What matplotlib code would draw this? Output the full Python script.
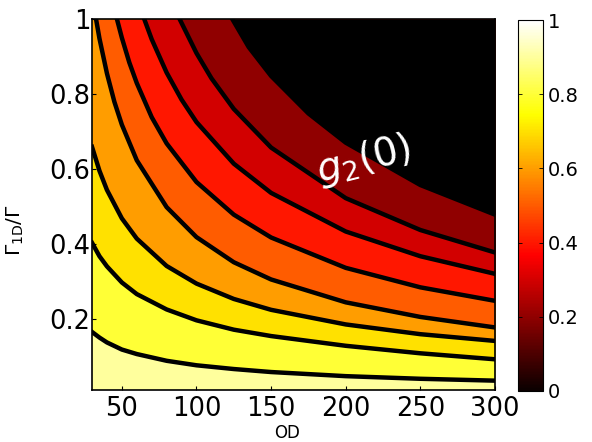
import matplotlib
matplotlib.use("Agg")
import matplotlib.pyplot as plt
from matplotlib.cm import ScalarMappable
from matplotlib.colors import Normalize

plt.rcParams["font.family"] = "DejaVu Sans"

# contour levels of g2(0) and the fill value of the band just above each line
levels = [0.9, 0.8, 0.7, 0.6, 0.5, 0.4, 0.3, 0.2]
band_above = [0.8, 0.7, 0.6, 0.5, 0.4, 0.3, 0.2, 0.0]

# contour lines, Gamma_1D/Gamma as a function of OD
od_left = [30, 35, 40, 50, 60, 80, 100, 125, 150, 200, 250, 300]
g_09 = [0.165, 0.150, 0.137, 0.118, 0.106, 0.088, 0.076, 0.066, 0.058, 0.047, 0.040, 0.035]
g_08 = [0.403, 0.367, 0.340, 0.297, 0.266, 0.225, 0.196, 0.171, 0.154, 0.128, 0.108, 0.092]
g_07 = [0.659, 0.595, 0.544, 0.468, 0.414, 0.341, 0.294, 0.253, 0.224, 0.185, 0.159, 0.141]

od_06 = [32.7, 35, 40, 45, 50, 60, 80, 100, 125, 150, 200, 250, 300]
g_06 = [1.0, 0.948, 0.855, 0.779, 0.718, 0.623, 0.498, 0.418, 0.351, 0.305, 0.244, 0.205, 0.177]

od_05 = [46.7, 50, 55, 60, 70, 80, 100, 125, 150, 200, 250, 300]
g_05 = [1.0, 0.950, 0.884, 0.829, 0.738, 0.668, 0.565, 0.478, 0.417, 0.336, 0.284, 0.248]

od_04 = [65, 70, 80, 90, 100, 125, 150, 200, 250, 300]
g_04 = [1.0, 0.946, 0.857, 0.785, 0.725, 0.614, 0.536, 0.433, 0.367, 0.320]

od_03 = [88.7, 100, 110, 125, 150, 200, 250, 300]
g_03 = [1.0, 0.909, 0.842, 0.760, 0.657, 0.522, 0.437, 0.377]

od_02 = [124, 135, 150, 175, 200, 250, 300]
g_02 = [1.0, 0.925, 0.848, 0.748, 0.670, 0.557, 0.478]

lines = [(od_left, g_09), (od_left, g_08), (od_left, g_07), (od_06, g_06),
         (od_05, g_05), (od_04, g_04), (od_03, g_03), (od_02, g_02)]

xticks = [50, 100, 150, 200, 250, 300]
yticks = [0.2, 0.4, 0.6, 0.8, 1.0]
yticklabels = ["0.2", "0.4", "0.6", "0.8", "1"]
cbar_ticks = [0, 0.2, 0.4, 0.6, 0.8, 1.0]
cbar_labels = ["0", "0.2", "0.4", "0.6", "0.8", "1"]

cmap = plt.cm.hot

fig = plt.figure(figsize=(5.92, 4.42), dpi=100)
ax = fig.add_axes([0.1554, 0.1176, 0.6807, 0.8394])
ax.set_facecolor(cmap(0.9))

# paint bands from the highest level down, each covering the region above its line
for (od, g), val in zip(lines, band_above):
    color = "black" if val == 0 else cmap(val)
    ax.fill_between(od, g, 1.0, color=color, linewidth=0, zorder=1)
for od, g in lines:
    ax.plot(od, g, color="black", lw=3.2, zorder=2)

ax.set_xlim(30, 300)
ax.set_ylim(0.01, 1.0)
ax.set_xticks(xticks)
ax.set_xticklabels([str(t) for t in xticks])
ax.set_yticks(yticks)
ax.set_yticklabels(yticklabels)
ax.tick_params(axis="both", direction="in", length=3, labelsize=18.5, width=0.8)
ax.tick_params(axis="y", pad=1)
ax.tick_params(axis="x", pad=4)
for s in ax.spines.values():
    s.set_linewidth(1.2)
    s.set_zorder(5)

ax.set_xlabel("OD", fontsize=12)
ax.xaxis.set_label_coords(0.484, -0.092)
ax.set_ylabel(r"$\Gamma_{\rm 1D}/\Gamma$", fontsize=14.5)
ax.yaxis.set_label_coords(-0.165, 0.43)

ax.text(212, 0.625, r"$g_2(0)$", color="white", fontsize=28,
        rotation=14, ha="center", va="center", zorder=4)

cax = fig.add_axes([0.875, 0.1154, 0.042, 0.839])
sm = ScalarMappable(norm=Normalize(0, 1), cmap=cmap)
cb = fig.colorbar(sm, cax=cax, ticks=cbar_ticks)
cb.ax.set_yticklabels(cbar_labels)
cb.ax.tick_params(direction="in", length=3, labelsize=14, width=0.6, left=True)
cb.outline.set_linewidth(0.8)

fig.savefig("out.png", dpi=100)
plt.close(fig)
